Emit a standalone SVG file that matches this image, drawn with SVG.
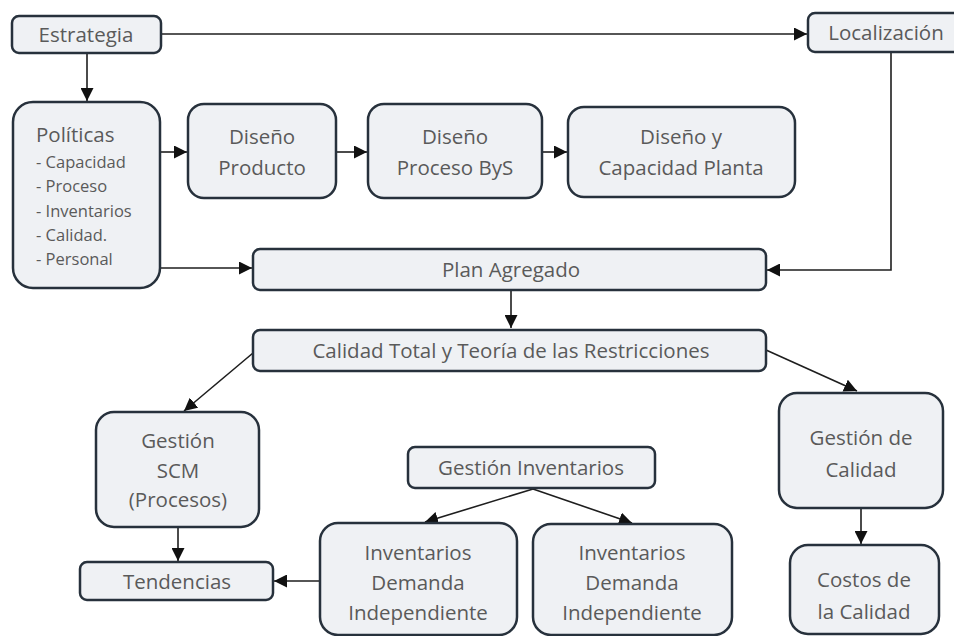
<svg xmlns="http://www.w3.org/2000/svg" width="954" height="636" viewBox="0 0 954 636">
  <style>
    .box { fill: #eff1f4; stroke: #27313c; stroke-width: 2.5; }
    .t { font-family: "Open Sans", "Liberation Sans", sans-serif; font-size: 20.5px; fill: #5a5a5a; text-anchor: middle; }
    .s { font-family: "Open Sans", "Liberation Sans", sans-serif; font-size: 16.5px; fill: #5a5a5a; }
    .c { fill: none; stroke: #1e1e1e; stroke-width: 1.6; }
  </style>
  <defs>
    <marker id="arr" viewBox="0 0 10 10" refX="10" refY="5" markerWidth="13" markerHeight="13" markerUnits="userSpaceOnUse" orient="auto">
      <path d="M0,0 L10,5 L0,10 z" fill="#111"/>
    </marker>
  </defs>
  <rect width="954" height="636" fill="#ffffff"/>

  <g id="connectors">
    <path class="c" d="M161,34 H807" marker-end="url(#arr)"/>
    <path class="c" d="M87,53 V101" marker-end="url(#arr)"/>
    <path class="c" d="M161,152 H187" marker-end="url(#arr)"/>
    <path class="c" d="M336,152 H367" marker-end="url(#arr)"/>
    <path class="c" d="M542,152 H567" marker-end="url(#arr)"/>
    <path class="c" d="M891,53 V270 H767" marker-end="url(#arr)"/>
    <path class="c" d="M161,268 H252" marker-end="url(#arr)"/>
    <path class="c" d="M511,290 V328" marker-end="url(#arr)"/>
    <path class="c" d="M253,353 L184,411" marker-end="url(#arr)"/>
    <path class="c" d="M766,350 L857,391" marker-end="url(#arr)"/>
    <path class="c" d="M178,527 V561" marker-end="url(#arr)"/>
    <path class="c" d="M861,508 V544" marker-end="url(#arr)"/>
    <path class="c" d="M533,489 L425,522" marker-end="url(#arr)"/>
    <path class="c" d="M533,489 L632,523" marker-end="url(#arr)"/>
    <path class="c" d="M320,581 H274" marker-end="url(#arr)"/>
  </g>

  <g id="estrategia">
    <rect class="box" x="12" y="16" width="149" height="37" rx="7"/>
    <text class="t" x="86" y="42">Estrategia</text>
  </g>
  <g id="localizacion">
    <rect class="box" x="808" y="13" width="160" height="39" rx="7"/>
    <text class="t" x="886" y="40">Localización</text>
  </g>
  <g id="politicas">
    <rect class="box" x="13" y="102" width="147" height="186" rx="20"/>
    <text class="t" x="36" y="142" style="text-anchor:start">Políticas</text>
    <text class="s" x="36" y="168">- Capacidad</text>
    <text class="s" x="36" y="192">- Proceso</text>
    <text class="s" x="36" y="217">- Inventarios</text>
    <text class="s" x="36" y="241">- Calidad.</text>
    <text class="s" x="36" y="265">- Personal</text>
  </g>
  <g id="diseno-producto">
    <rect class="box" x="188" y="104" width="148" height="94" rx="16"/>
    <text class="t" x="262" y="144">Diseño</text>
    <text class="t" x="262" y="175">Producto</text>
  </g>
  <g id="diseno-proceso">
    <rect class="box" x="368" y="104" width="174" height="94" rx="16"/>
    <text class="t" x="455" y="144">Diseño</text>
    <text class="t" x="455" y="175">Proceso ByS</text>
  </g>
  <g id="diseno-planta">
    <rect class="box" x="568" y="107" width="227" height="90" rx="16"/>
    <text class="t" x="681" y="144">Diseño y</text>
    <text class="t" x="681" y="175">Capacidad Planta</text>
  </g>
  <g id="plan-agregado">
    <rect class="box" x="253" y="249" width="513" height="41" rx="7"/>
    <text class="t" x="511" y="277">Plan Agregado</text>
  </g>
  <g id="calidad-total">
    <rect class="box" x="253" y="330" width="513" height="41" rx="7"/>
    <text class="t" x="511" y="358">Calidad Total y Teoría de las Restricciones</text>
  </g>
  <g id="gestion-scm">
    <rect class="box" x="96" y="412" width="163" height="115" rx="18"/>
    <text class="t" x="178" y="448">Gestión</text>
    <text class="t" x="178" y="478">SCM</text>
    <text class="t" x="178" y="507">(Procesos)</text>
  </g>
  <g id="tendencias">
    <rect class="box" x="80" y="562" width="193" height="38" rx="7"/>
    <text class="t" x="177" y="589">Tendencias</text>
  </g>
  <g id="gestion-inventarios">
    <rect class="box" x="408" y="447" width="247" height="41" rx="7"/>
    <text class="t" x="531" y="475">Gestión Inventarios</text>
  </g>
  <g id="inventarios-1">
    <rect class="box" x="320" y="523" width="197" height="112" rx="18"/>
    <text class="t" x="418" y="560">Inventarios</text>
    <text class="t" x="418" y="590">Demanda</text>
    <text class="t" x="418" y="620">Independiente</text>
  </g>
  <g id="inventarios-2">
    <rect class="box" x="533" y="524" width="199" height="111" rx="18"/>
    <text class="t" x="632" y="560">Inventarios</text>
    <text class="t" x="632" y="590">Demanda</text>
    <text class="t" x="632" y="620">Independiente</text>
  </g>
  <g id="gestion-calidad">
    <rect class="box" x="779" y="393" width="164" height="115" rx="18"/>
    <text class="t" x="861" y="445">Gestión de</text>
    <text class="t" x="861" y="477">Calidad</text>
  </g>
  <g id="costos-calidad">
    <rect class="box" x="790" y="545" width="149" height="89" rx="18"/>
    <text class="t" x="864" y="587">Costos de</text>
    <text class="t" x="864" y="619">la Calidad</text>
  </g>
</svg>
